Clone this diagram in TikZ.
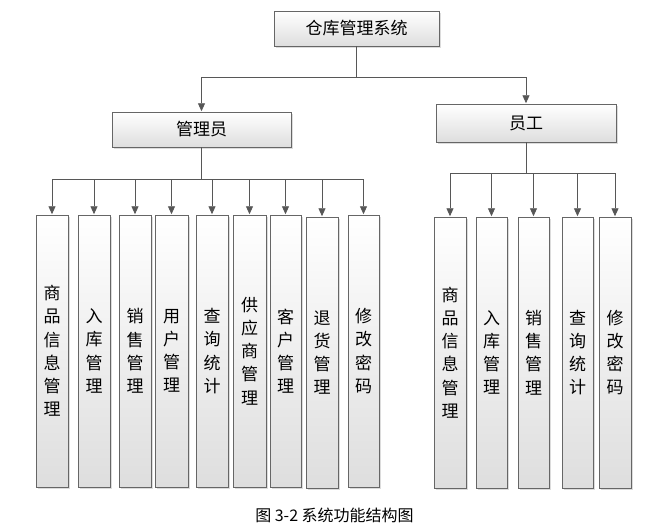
\documentclass[tikz,border=0pt]{standalone}
\usepackage{fontspec}
\setmainfont{Noto Sans CJK SC}
\usetikzlibrary{arrows.meta,shadows}
\begin{document}
\begin{tikzpicture}[x=1pt,y=-1pt,
  box/.style={draw=black!60, line width=0.9pt, top color=white, bottom color=black!13,
    drop shadow={shadow xshift=1.6pt, shadow yshift=-1.6pt, opacity=0.28},
    inner sep=0pt, align=center},
  wide/.style={box, font=\fontsize{17}{20}\selectfont},
  tall/.style={box, font=\fontsize{17}{23.2}\selectfont},
  con/.style={draw=black!66, line width=0.95pt},
  arr/.style={con, -{Triangle[length=8pt,width=7pt]}, shorten >=0.3pt}]
\useasboundingbox (0,0) rectangle (672,531);
% top level
\node[wide, minimum width=165pt, minimum height=35pt] (sys) at (356.5,28.5) {仓库管理系统};
\node[wide, minimum width=179pt, minimum height=35pt] (adm) at (201.5,129.5) {管理员};
\node[wide, minimum width=180pt, minimum height=38pt] (emp) at (526,123) {员工};
% admin children
\node[tall, minimum width=32pt, minimum height=272pt] (a1) at (52,351) {商\\品\\信\\息\\管\\理};
\node[tall, minimum width=32pt, minimum height=272pt] (a2) at (94,351) {入\\库\\管\\理};
\node[tall, minimum width=32pt, minimum height=272pt] (a3) at (135,351) {销\\售\\管\\理};
\node[tall, minimum width=33pt, minimum height=272pt] (a4) at (171.5,351) {用\\户\\管\\理};
\node[tall, minimum width=32pt, minimum height=272pt] (a5) at (212,351) {查\\询\\统\\计};
\node[tall, minimum width=33pt, minimum height=272pt] (a6) at (249.5,351) {供\\应\\商\\管\\理};
\node[tall, minimum width=31pt, minimum height=272pt] (a7) at (285.5,351) {客\\户\\管\\理};
\node[tall, minimum width=32pt, minimum height=271pt] (a8) at (322,352.5) {退\\货\\管\\理};
\node[tall, minimum width=31pt, minimum height=272pt] (a9) at (363.5,351) {修\\改\\密\\码};
% employee children
\node[tall, minimum width=32pt, minimum height=271pt] (e1) at (450,352.5) {商\\品\\信\\息\\管\\理};
\node[tall, minimum width=31pt, minimum height=271pt] (e2) at (491.5,352.5) {入\\库\\管\\理};
\node[tall, minimum width=31pt, minimum height=271pt] (e3) at (533.5,352.5) {销\\售\\管\\理};
\node[tall, minimum width=31pt, minimum height=271pt] (e4) at (577.5,352.5) {查\\询\\统\\计};
\node[tall, minimum width=32pt, minimum height=271pt] (e5) at (615,352.5) {修\\改\\密\\码};
% bus coordinates
\coordinate (busT) at (0,77);
\coordinate (busL) at (0,179);
\coordinate (busR) at (0,173);
% connectors top
\draw[con] (sys.south) -- (sys.south |- busT);
\draw[arr] (sys.south |- busT) -| (adm.north);
\draw[arr] (sys.south |- busT) -| (emp.north);
% admin bus
\draw[con] (adm.south) -- (adm.south |- busL);
\foreach \c in {a1,a2,a3,a4,a5,a6,a7,a8,a9}
  \draw[arr] (adm.south |- busL) -| (\c.north);
% employee bus
\draw[con] (emp.south) -- (emp.south |- busR);
\foreach \c in {e1,e2,e3,e4,e5}
  \draw[arr] (emp.south |- busR) -| (\c.north);
% caption
\node[font=\fontsize{16}{18}\selectfont, inner sep=0pt] (cap) at (334.5,515) {图 3-2 系统功能结构图};
\end{tikzpicture}
\end{document}
